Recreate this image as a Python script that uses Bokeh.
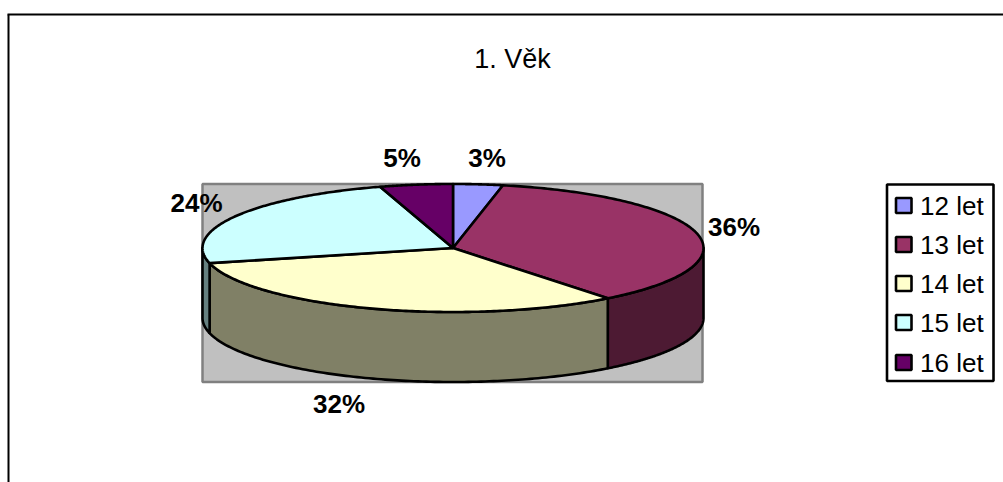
import numpy as np
from bokeh.plotting import figure
from bokeh.models import Range1d
from bokeh.core.properties import value
from bokeh.embed import file_html
from bokeh.resources import INLINE

title = "1. Věk"
categories = ["12 let", "13 let", "14 let", "15 let", "16 let"]
values = [3.2, 36.2, 31.8, 24.1, 4.7]
labels = ["3%", "36%", "32%", "24%", "5%"]
colors = ["#9999FF", "#993366", "#FFFFCC", "#CCFFFF", "#660066"]
side_colors = ["#4D4D80", "#4D1A33", "#808066", "#668080", "#330033"]
label_pos = [(486.5, 157), (733.5, 226), (338.5, 403), (196, 202), (401.5, 157)]
legend_y = [205, 244, 283, 322, 362]

W, H = 1003, 482
cx, cy, rx, ry, depth = 452.5, 247.5, 250.5, 64, 70
FONT = "Liberation Sans"
LW = 2.6

p = figure(width=W, height=H, output_backend="svg", toolbar_location=None,
           x_range=Range1d(0, W), y_range=Range1d(H, 0),
           min_border=0, outline_line_color=None, background_fill_color="white")
p.axis.visible = False
p.grid.visible = False

# outer frame, top and left edges only
p.multi_line([[7, W], [8, 8]], [[14, 14], [14, H]], line_color="black", line_width=2)

# plot wall
p.quad(left=202, right=702, top=183.5, bottom=381.5, fill_color="#C0C0C0",
       line_color="#808080", line_width=2.5)

def pt(a):
    return cx + rx * np.sin(a), cy - ry * np.cos(a)

edges = np.cumsum([0] + values) / sum(values) * 2 * np.pi

# side walls (front half of the ellipse)
for i in range(len(values)):
    a0, a1 = max(edges[i], np.pi / 2), min(edges[i + 1], 3 * np.pi / 2)
    if a1 <= a0:
        continue
    t = np.linspace(a0, a1, 120)
    x, y = pt(t)
    p.patch(np.r_[x, x[::-1]], np.r_[y, y[::-1] + depth], fill_color=side_colors[i],
            line_color="black", line_width=LW, line_join="round")

# top slices
for i in range(len(values)):
    t = np.linspace(edges[i], edges[i + 1], 160)
    x, y = pt(t)
    p.patch(np.r_[cx, x], np.r_[cy, y], fill_color=colors[i],
            line_color="black", line_width=LW, line_join="round")

# title and data labels
p.text([512], [58], text=[title], text_font=value(FONT), text_font_size="27px",
       text_align="center", text_baseline="middle", text_color="black")
p.text([q[0] for q in label_pos], [q[1] for q in label_pos], text=labels,
       text_font=value(FONT), text_font_size="26px", text_font_style="bold",
       text_align="center", text_baseline="middle", text_color="black")

# legend
p.quad(left=886.5, right=993, top=184, bottom=380.5, fill_color="white",
       line_color="black", line_width=LW)
for c, n, y in zip(colors, categories, legend_y):
    p.quad(left=895.5, right=911, top=y - 7.5, bottom=y + 7.5, fill_color=c,
           line_color="black", line_width=LW)
    p.text([919.5], [y], text=[n], text_font=value(FONT), text_font_size="26px",
           text_align="left", text_baseline="middle", text_color="black")

open("out.html", "w").write(file_html(p, INLINE))
